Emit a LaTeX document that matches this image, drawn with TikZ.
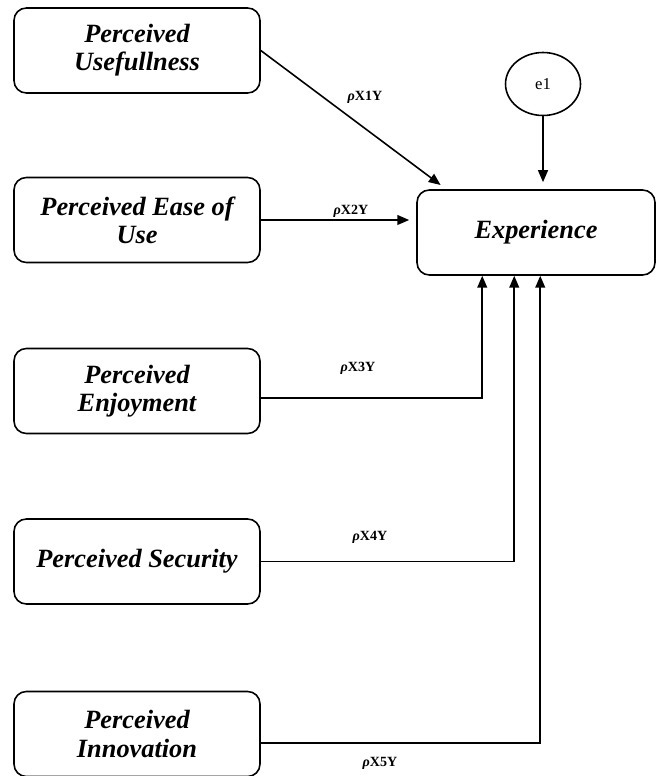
\documentclass[tikz,border=0pt]{standalone}
\usepackage{fontspec}
\setmainfont{Liberation Serif}
\usetikzlibrary{arrows.meta,calc,shapes.geometric}

\tikzset{
    factor/.style={draw, line width=0.9pt, rounded corners=7pt, inner sep=0pt,
        minimum width=4.92cm, minimum height=1.7cm, align=center,
        font=\fontsize{15}{16}\selectfont\bfseries\itshape},
    errterm/.style={draw, ellipse, line width=0.9pt, inner sep=0pt,
        minimum width=1.5cm, minimum height=1.26cm, font=\fontsize{9.5}{11}\selectfont},
    regpath/.style={line width=0.9pt, -{Triangle[length=6.8pt,width=5.6pt]}},
    coef/.style={font=\fontsize{8}{9}\selectfont\bfseries}
}

\begin{document}
\begin{tikzpicture}[x=0.02cm, y=-0.02cm]
    \useasboundingbox (0,0) rectangle (656,776);

    % Exogenous factors on the left
    \node[factor] (pu) at (137,50.5) {Perceived\\Usefullness};
    \node[factor] (peu) at (137,220) {Perceived Ease of\\Use};
    \node[factor] (pen) at (137,391) {Perceived\\Enjoyment};
    \node[factor] (ps) at (137,561.5) {Perceived Security};
    \node[factor] (pi) at (137,734) {Perceived\\Innovation};

    % Endogenous factor and its error term
    \node[factor, minimum width=4.76cm] (ex) at (536,232.5) {Experience};
    \node[errterm] (e1) at (543,84) {e1};

    % Paths
    \draw[regpath, shorten >=4pt] (pu.east) -- ($(ex.north west)+(30,0)$);
    \draw[regpath, shorten >=4pt] (peu.east) -- (peu.east -| ex.west);
    \draw[regpath, shorten >=4pt] (e1.south) -- (e1.south |- ex.north);
    \draw[regpath] ($(pen.east)+(0,7)$) -| ($(ex.south west)+(66,0)$);
    \draw[regpath] (ps.east) -| ($(ex.south west)+(98,0)$);
    \draw[regpath] ($(pi.east)+(0,9)$) -| ($(ex.south west)+(124,0)$);

    % Path coefficients
    \node[coef] (c1) at (365,97) {{\itshape ρ}X1Y};
    \node[coef] (c2) at (351,211) {{\itshape ρ}X2Y};
    \node[coef] (c3) at (358,368) {{\itshape ρ}X3Y};
    \node[coef] (c4) at (370,537) {{\itshape ρ}X4Y};
    \node[coef] (c5) at (380,763) {{\itshape ρ}X5Y};
\end{tikzpicture}
\end{document}
